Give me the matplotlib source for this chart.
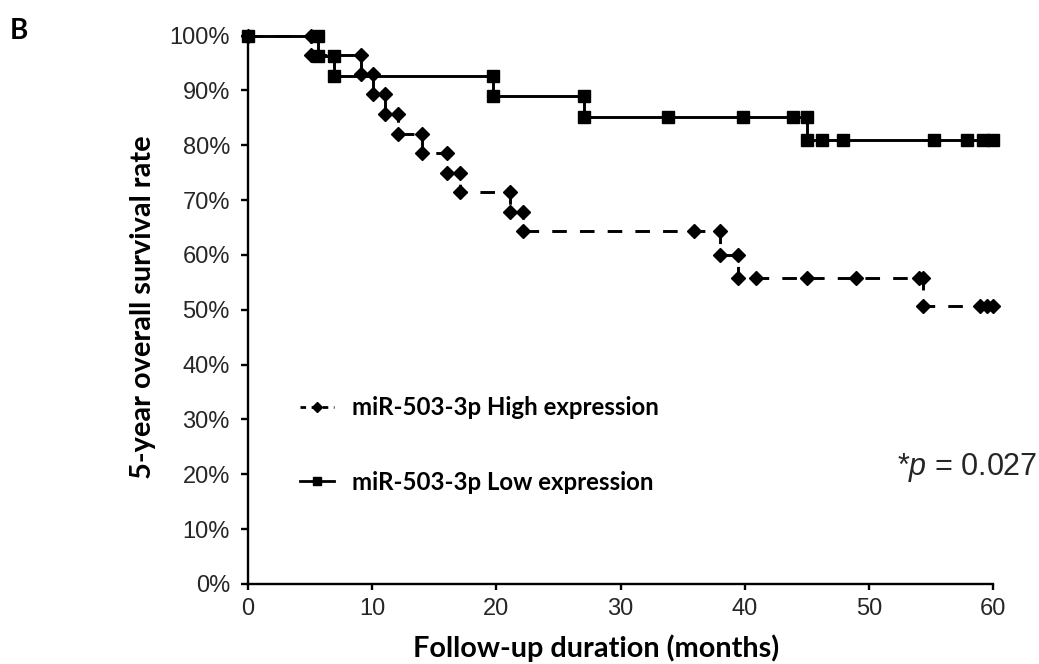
import matplotlib
matplotlib.use("Agg")
import matplotlib.pyplot as plt
from matplotlib.lines import Line2D
from matplotlib.ticker import FuncFormatter

# ---- data (curve vertices, months / % survival) ----
high_months = [0, 5.07, 5.07, 9.07, 9.07, 10.04, 10.04, 11.03, 11.03, 12.1, 12.1,
               14.0, 14.0, 16.0, 16.0, 17.07, 17.07, 21.1, 21.1, 22.12, 22.12,
               35.9, 38.0, 38.0, 39.5, 39.5, 40.9, 45.0, 48.97, 54.0, 54.4, 54.4,
               58.95, 59.5, 60.0]
high_surv = [100, 100, 96.4, 96.4, 92.9, 92.9, 89.3, 89.3, 85.7, 85.7, 82.1,
             82.1, 78.6, 78.6, 75.0, 75.0, 71.4, 71.4, 67.9, 67.9, 64.3,
             64.3, 64.3, 60.0, 60.0, 55.7, 55.7, 55.7, 55.7, 55.7, 55.7, 50.6,
             50.6, 50.6, 50.6]

low_months = [0, 5.67, 5.67, 6.95, 6.95, 19.76, 19.76, 27.1, 27.1, 33.85, 39.9,
              43.9, 45.0, 45.0, 46.2, 47.9, 55.25, 57.9, 59.2, 60.0]
low_surv = [100, 100, 96.3, 96.3, 92.6, 92.6, 88.9, 88.9, 85.2, 85.2, 85.2,
            85.2, 85.2, 80.9, 80.9, 80.9, 80.9, 80.9, 80.9, 80.9]

x_ticks = [0, 10, 20, 30, 40, 50, 60]
y_ticks = [0, 10, 20, 30, 40, 50, 60, 70, 80, 90, 100]
series_labels = ["miR-503-3p High expression", "miR-503-3p Low expression"]
p_text = "*$p$ = 0.027"
x_label = "Follow-up duration (months)"
y_label = "5-year overall survival rate"
panel_label = "B"

plt.rcParams['mathtext.fontset'] = 'custom'
plt.rcParams['mathtext.rm'] = 'Liberation Sans'
plt.rcParams['mathtext.it'] = 'Liberation Sans:italic'

W, H = 1039, 664
fig = plt.figure(figsize=(W / 100, H / 100), dpi=100)
ax = fig.add_axes([248 / W, 1 - 584 / H, 745 / W, (584 - 35.5) / H])

ax.plot(high_months, high_surv, color='black', lw=2.1, ls=(0, (5, 4.5)),
        marker='D', ms=7, clip_on=False, zorder=3)
ax.plot(low_months, low_surv, color='black', lw=2.1, ls='-',
        marker='s', ms=8, clip_on=False, zorder=3)

ax.set_xlim(0, 60)
ax.set_ylim(0, 100)
ax.set_xticks(x_ticks)
ax.set_yticks(y_ticks)
ax.yaxis.set_major_formatter(FuncFormatter(lambda v, _: f"{int(v)}%"))

for s in ['top', 'right']:
    ax.spines[s].set_visible(False)
for s in ['left', 'bottom']:
    ax.spines[s].set_linewidth(1.7)
    ax.spines[s].set_color('black')

ax.tick_params(axis='both', direction='out', width=1.7, color='black',
               labelcolor='#262626')
ax.tick_params(axis='y', length=5, pad=8, labelsize=17)
ax.tick_params(axis='x', length=4, pad=6, labelsize=17)
for lab in ax.get_xticklabels() + ax.get_yticklabels():
    lab.set_fontfamily('Liberation Sans')

ax.set_xlabel(x_label, fontsize=20.8, fontweight='bold', family='Lato')
ax.set_ylabel(y_label, fontsize=20.8, fontweight='bold', family='Lato')
ax.xaxis.set_label_coords((596 - 248) / 745, (584 - 634) / 548.5)
ax.yaxis.set_label_coords((156 - 248) / 745, (584 - 307) / 548.5)

handles = [
    Line2D([], [], color='black', lw=2, ls=(0, (2, 2)), marker='D', ms=5),
    Line2D([], [], color='black', lw=2, ls='-', marker='s', ms=6),
]
leg = ax.legend(handles, series_labels, loc='upper left',
                bbox_to_anchor=((300 - 248) / 745, (584 - 396) / 548.5),
                frameon=False, borderpad=0, borderaxespad=0,
                handlelength=1.4, handletextpad=0.75, labelspacing=2.15,
                prop={'family': 'Lato', 'weight': 'bold', 'size': 17.3})

ax.text(52.3, 21.3, p_text, fontsize=22, family='Liberation Sans',
        ha='left', va='center', color='#262626')

fig.text(10 / W, 1 - 31 / H, panel_label, fontsize=20, fontweight='bold',
         family='Lato', ha='left', va='center')

fig.savefig("out.png", dpi=100)
